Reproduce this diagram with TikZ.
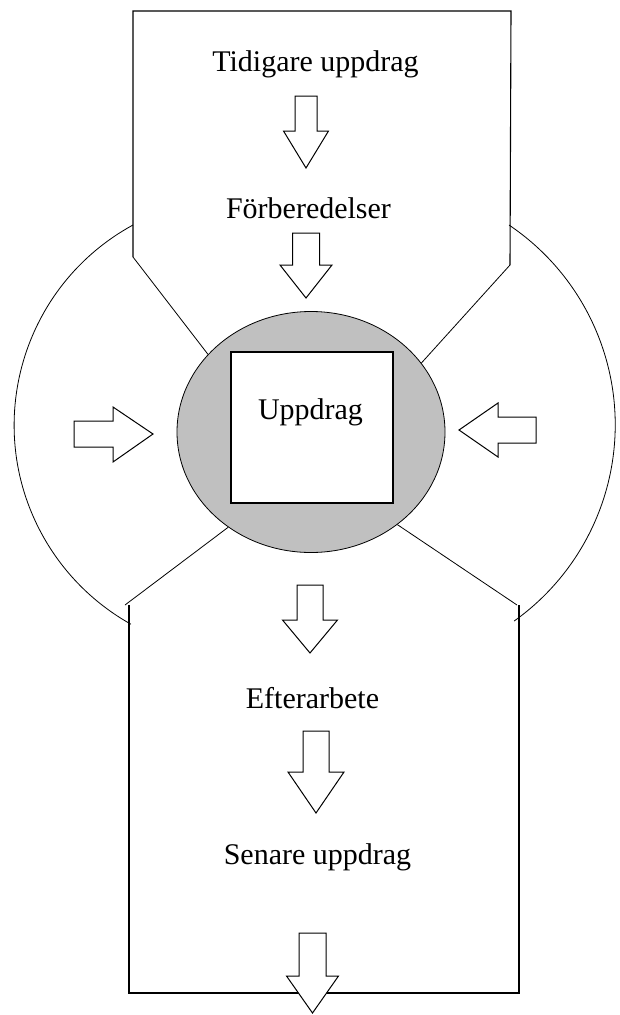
\documentclass[tikz,border=0pt]{standalone}
\usepackage{fontspec}
\setmainfont{Liberation Serif}
\usepackage{tikz}
\usetikzlibrary{shapes.geometric,positioning}

\definecolor{coregray}{HTML}{C0C0C0}

\begin{document}
\begin{tikzpicture}
		[
			x=1pt, y=-1pt,
			align=center,
			label/.style={draw=none,fill=none,inner sep=0pt,anchor=base,
				font=\fontsize{30}{36}\selectfont},
			frame/.style={line width=1.1pt},
			rim/.style={line width=0.8pt},
			blockarrow/.style={line width=1pt, fill=white, line join=miter}
		]
		\useasboundingbox (0,0) rectangle (620,1015);

		% corner points of the frames
		\coordinate (tl)  at ( 133,  11 );
		\coordinate (tr)  at ( 511,  11 );
		\coordinate (tlb) at ( 133, 257 );
		\coordinate (trb) at ( 510, 265 );
		\coordinate (bl)  at ( 125, 605 );
		\coordinate (br)  at ( 517, 605 );
		\coordinate (blb) at ( 129, 993 );
		\coordinate (brb) at ( 519, 993 );
		\coordinate (la)  at ( 133, 225 );
		\coordinate (ra)  at ( 509, 225 );

		% centre
		\node[ellipse,draw,rim,fill=coregray,minimum width=268,minimum height=241,inner sep=0pt]
			(core) at ( 311, 432 ) {};
		\node[rectangle,draw,frame,fill=white,minimum width=162,minimum height=151,inner sep=0pt]
			(task) at ( 312, 427.5 ) {};

		% labels
		\node[label] (tidigare) at ( 315.5,  71 ) {Tidigare uppdrag};
		\node[label] (forbered) at ( 308.5, 218 ) {Förberedelser};
		\node[label] (uppdrag)  at ( 310.5, 419 ) {Uppdrag};
		\node[label] (efter)    at ( 312.5, 708 ) {Efterarbete};
		\node[label] (senare)   at ( 317.5, 864 ) {Senare uppdrag};

		% upper frame
		\draw[frame] (tlb) -- (tl) -- (tr) -- (trb);
		\draw[rim] (tlb) -- (core.143);
		\draw[rim] (trb) -- (core.32);

		% lower frame
		\draw[frame] (bl) ++(4,0) -- (blb) -- (brb) -- ++(0,-388);
		\draw[rim] (bl) -- (core.229);
		\draw[rim] (br) -- (core.313);

		% side arcs
		\draw[rim] (la) arc[start angle=241.4, end angle=119.2, radius=228];
		\draw[rim] (ra) arc[start angle=-56, end angle=54.5, radius=241];

		% down arrows
		\foreach \cx/\top/\base/\tip/\sw/\hw in
			{306/96/131/168/11/22.5, 306/233/265/298/13.5/26, 310/585/620/653/13/27.5,
			 316/731/772/813/13/28, 312.5/933/976/1013/13.5/26}
		\draw[blockarrow] (\cx-\sw,\top) -- (\cx+\sw,\top) -- (\cx+\sw,\base)
			-- (\cx+\hw,\base) -- (\cx,\tip) -- (\cx-\hw,\base) -- (\cx-\sw,\base) -- cycle;

		% side arrows
		\draw[blockarrow] (74,421) -- (113,421) -- (113,407) -- (153,434)
			-- (113,462) -- (113,447) -- (74,447) -- cycle;
		\draw[blockarrow] (536,417) -- (498,417) -- (498,403) -- (459,430)
			-- (498,457) -- (498,443) -- (536,443) -- cycle;

	\end{tikzpicture}
\end{document}
